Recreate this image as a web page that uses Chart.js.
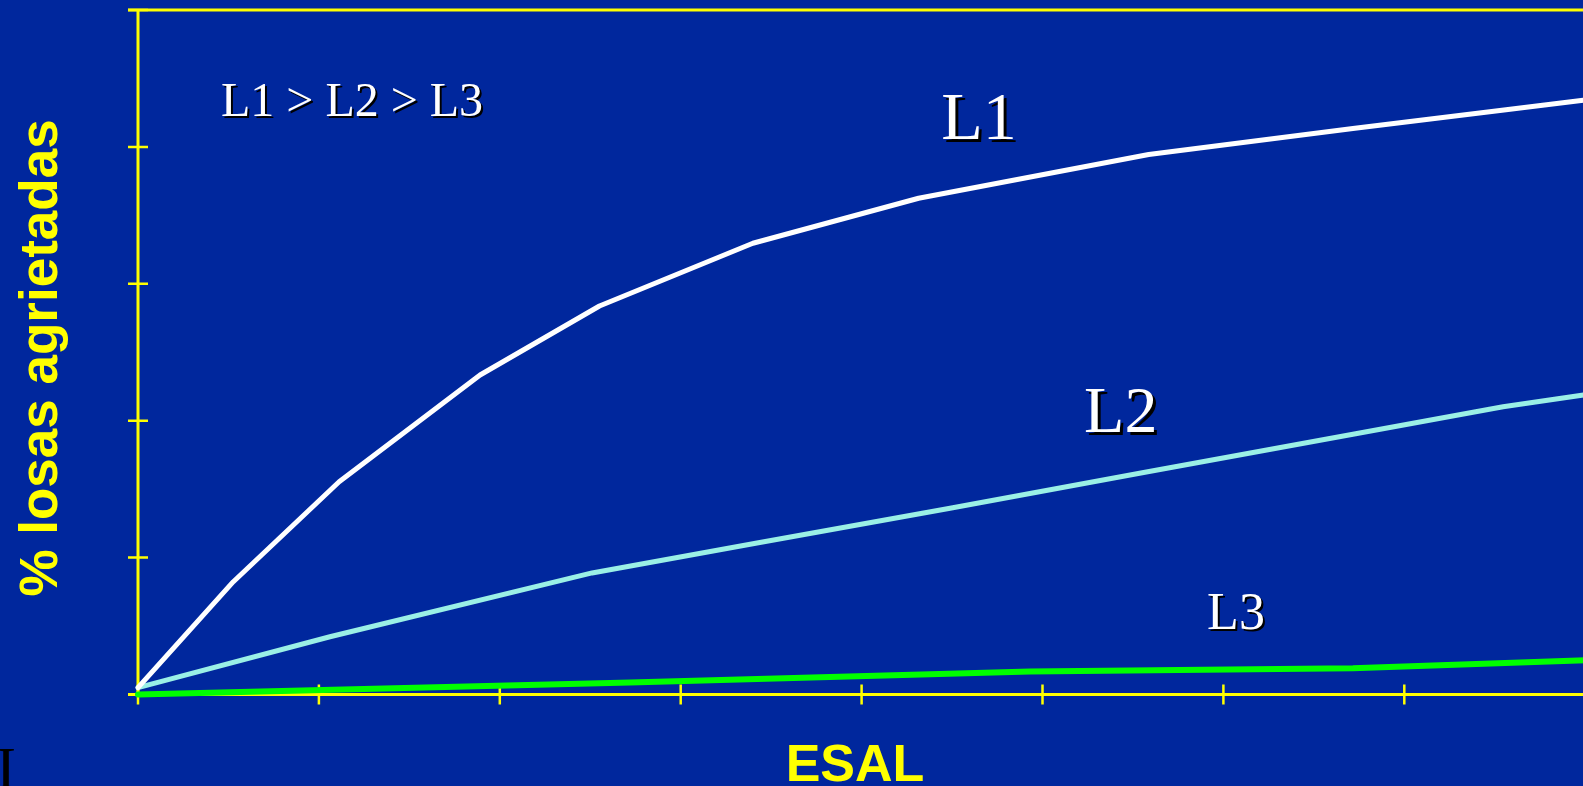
<!DOCTYPE html>
<html>
<head>
<meta charset="utf-8">
<script src="https://cdn.jsdelivr.net/npm/chart.js@4/dist/chart.umd.min.js"></script>
<style>
  html, body { margin: 0; padding: 0; background: #00279D; overflow: hidden; }
  #wrap { position: relative; width: 1600px; height: 786px; }
  canvas { display: block; }
</style>
</head>
<body>
<div id="wrap"><canvas id="chart" width="1600" height="786"></canvas></div>
<script>
// ESAL (x) and % cracked slabs (y) for each slab length
const esalL1 = [0, 0.527, 1.112, 1.891, 2.551, 3.399, 4.315, 5.587, 6.716, 7.551, 8.0];
const crackL1 = [0.05, 0.824, 1.554, 2.334, 2.838, 3.296, 3.625, 3.944, 4.134, 4.270, 4.343];

const esalL2 = [0, 1.061, 2.510, 3.422, 4.489, 5.544, 6.716, 7.546, 8.0];
const crackL2 = [0.05, 0.422, 0.888, 1.107, 1.360, 1.618, 1.901, 2.102, 2.190];

const esalL3 = [0, 2.720, 4.931, 6.716, 8.0];
const crackL3 = [0, 0.088, 0.168, 0.191, 0.250];

// tick positions on each axis (no tick labels are printed)
const xTicks = [0, 1, 2, 3, 4, 5, 6, 7, 8];
const yTicks = [0, 1, 2, 3, 4, 5];

const seriesNames = ['L1', 'L2', 'L3'];
const xTitle = 'ESAL';
const yTitle = '% losas agrietadas';
const noteText = 'L1 > L2 > L3';

const toPoints = (xs, ys) => xs.map((x, i) => ({ x: x, y: ys[i] }));

const YELLOW = '#FFFF00';

// axes, ticks, frame and text drawn with the chart's own scales
const slideDecor = {
  id: 'slideDecor',
  beforeDatasetsDraw(chart) {
    const { ctx, scales: { x, y } } = chart;
    const x0 = x.getPixelForValue(0);
    const y0 = y.getPixelForValue(0);
    const yTop = y.getPixelForValue(5);
    ctx.save();
    ctx.strokeStyle = YELLOW;
    ctx.lineWidth = 3;
    ctx.lineCap = 'butt';
    ctx.beginPath();
    // top frame line
    ctx.moveTo(x0 - 10, yTop);
    ctx.lineTo(chart.width, yTop);
    // y axis
    ctx.moveTo(x0, yTop);
    ctx.lineTo(x0, y0);
    // x axis
    ctx.moveTo(x0 - 10, y0);
    ctx.lineTo(chart.width, y0);
    ctx.stroke();
    // crossing ticks
    ctx.lineWidth = 2.5;
    ctx.beginPath();
    yTicks.forEach(v => {
      const py = y.getPixelForValue(v);
      ctx.moveTo(x0 - 10, py);
      ctx.lineTo(x0 + 10, py);
    });
    xTicks.forEach(v => {
      const px = x.getPixelForValue(v);
      ctx.moveTo(px, y0 - 10);
      ctx.lineTo(px, y0 + 10);
    });
    ctx.stroke();
    ctx.restore();
  },
  afterDatasetsDraw(chart) {
    const { ctx, scales: { x, y } } = chart;
    ctx.save();
    // axis titles
    ctx.fillStyle = YELLOW;
    ctx.font = 'bold 52px "Liberation Sans", Arial, sans-serif';
    ctx.textAlign = 'center';
    ctx.textBaseline = 'alphabetic';
    ctx.fillText(xTitle, 855, 781);
    ctx.save();
    ctx.translate(57, 358);
    ctx.rotate(-Math.PI / 2);
    ctx.font = 'bold 53px "Liberation Sans", Arial, sans-serif';
    ctx.fillText(yTitle, 0, 0);
    ctx.restore();

    // serif labels with a hard black drop shadow
    ctx.textAlign = 'left';
    ctx.fillStyle = '#FFFFFF';
    ctx.shadowColor = '#000000';
    ctx.shadowBlur = 0;
    const label = (text, size, px, py, off) => {
      ctx.font = size + 'px "Liberation Serif", "Times New Roman", serif';
      ctx.shadowOffsetX = off;
      ctx.shadowOffsetY = off;
      ctx.fillText(text, px, py);
    };
    label(noteText, 48, 221, 116, 2);
    label(seriesNames[0], 68, x.getPixelForValue(4.44), y.getPixelForValue(4.06), 3);
    label(seriesNames[1], 66, x.getPixelForValue(5.23), y.getPixelForValue(1.92), 3);
    label(seriesNames[2], 52, x.getPixelForValue(5.91), y.getPixelForValue(0.48), 2);

    // fragment of slide text at the lower left corner
    ctx.shadowOffsetX = 0;
    ctx.shadowOffsetY = 0;
    ctx.fillStyle = '#000000';
    ctx.font = '60px "Liberation Serif", "Times New Roman", serif';
    ctx.fillText('I', -4, 788);
    ctx.restore();
  }
};

new Chart(document.getElementById('chart'), {
  type: 'line',
  data: {
    datasets: [
      {
        label: seriesNames[0],
        data: toPoints(esalL1, crackL1),
        borderColor: '#FFFFFF',
        borderWidth: 5
      },
      {
        label: seriesNames[1],
        data: toPoints(esalL2, crackL2),
        borderColor: '#9AF0E6',
        borderWidth: 5
      },
      {
        label: seriesNames[2],
        data: toPoints(esalL3, crackL3),
        borderColor: '#00FF00',
        borderWidth: 6
      }
    ]
  },
  options: {
    responsive: false,
    devicePixelRatio: 1,
    animation: false,
    events: [],
    layout: { padding: { left: 138, top: 10, right: 14.8, bottom: 91.5 } },
    elements: {
      line: { tension: 0, borderJoinStyle: 'round', borderCapStyle: 'round', fill: false },
      point: { radius: 0 }
    },
    datasets: { line: { clip: false } },
    scales: {
      x: { type: 'linear', min: 0, max: 8, display: false },
      y: { type: 'linear', min: 0, max: 5, display: false }
    },
    plugins: {
      legend: { display: false },
      tooltip: { enabled: false }
    }
  },
  plugins: [slideDecor]
});
</script>
</body>
</html>
